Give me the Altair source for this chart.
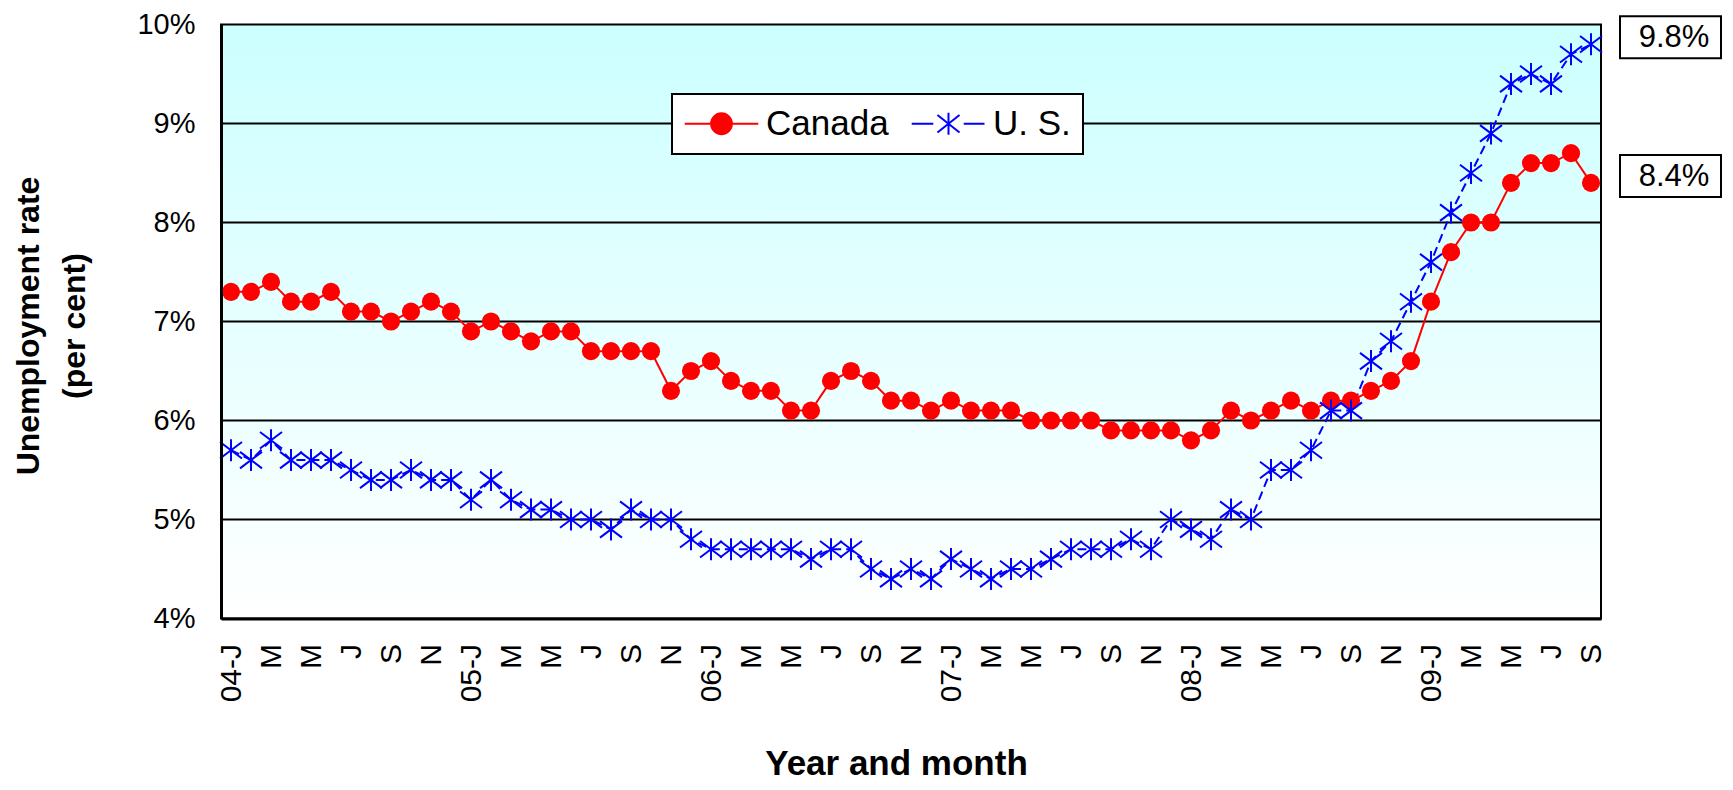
import altair as alt
import pandas as pd

# ---- data -------------------------------------------------------------
months = [f"{y}-{m:02d}" for y in range(2004, 2010) for m in range(1, 13)][:69]

canada = [7.3, 7.3, 7.4, 7.2, 7.2, 7.3, 7.1, 7.1, 7.0, 7.1, 7.2, 7.1,
          6.9, 7.0, 6.9, 6.8, 6.9, 6.9, 6.7, 6.7, 6.7, 6.7, 6.3, 6.5,
          6.6, 6.4, 6.3, 6.3, 6.1, 6.1, 6.4, 6.5, 6.4, 6.2, 6.2, 6.1,
          6.2, 6.1, 6.1, 6.1, 6.0, 6.0, 6.0, 6.0, 5.9, 5.9, 5.9, 5.9,
          5.8, 5.9, 6.1, 6.0, 6.1, 6.2, 6.1, 6.2, 6.2, 6.3, 6.4, 6.6,
          7.2, 7.7, 8.0, 8.0, 8.4, 8.6, 8.6, 8.7, 8.4]

us = [5.7, 5.6, 5.8, 5.6, 5.6, 5.6, 5.5, 5.4, 5.4, 5.5, 5.4, 5.4,
      5.2, 5.4, 5.2, 5.1, 5.1, 5.0, 5.0, 4.9, 5.1, 5.0, 5.0, 4.8,
      4.7, 4.7, 4.7, 4.7, 4.7, 4.6, 4.7, 4.7, 4.5, 4.4, 4.5, 4.4,
      4.6, 4.5, 4.4, 4.5, 4.5, 4.6, 4.7, 4.7, 4.7, 4.8, 4.7, 5.0,
      4.9, 4.8, 5.1, 5.0, 5.5, 5.5, 5.7, 6.1, 6.1, 6.6, 6.8, 7.2,
      7.6, 8.1, 8.5, 8.9, 9.4, 9.5, 9.4, 9.7, 9.8]

tick_months = months[::2]
tick_labels = ["04-J", "M", "M", "J", "S", "N",
               "05-J", "M", "M", "J", "S", "N",
               "06-J", "M", "M", "J", "S", "N",
               "07-J", "M", "M", "J", "S", "N",
               "08-J", "M", "M", "J", "S", "N",
               "09-J", "M", "M", "J", "S"]

series_names = ["Canada", "U. S."]
series_colors = ["#FF0000", "#0000FF"]
y_ticks = [4, 5, 6, 7, 8, 9, 10]
grid_values = [5, 6, 7, 8, 9]

df = pd.DataFrame({
    "month": months * 2,
    "series": ["Canada"] * len(months) + ["U. S."] * len(months),
    "rate": canada + us,
})

end_df = pd.DataFrame({
    "month": [months[-1], months[-1]],
    "rate": [us[-1], canada[-1]],
    "label": [f"{us[-1]}%", f"{canada[-1]}%"],
})

grid_df = pd.DataFrame({"rate": grid_values})

# ---- shapes ----------------------------------------------------------
STAR = "M0,-1L0,1M-1,-0.75L1,0.75M-1,0.75L1,-0.75"
LEG_CANADA = ("M-2.3,0L2.3,0"
              "M-0.65,0C-0.65,-0.359,-0.359,-0.65,0,-0.65"
              "C0.359,-0.65,0.65,-0.359,0.65,0"
              "C0.65,0.359,0.359,0.65,0,0.65"
              "C-0.359,0.65,-0.65,0.359,-0.65,0Z")
LEG_US = ("M-2.3,0L-0.95,0M0.95,0L2.25,0"
          "M0,-0.69L0,0.69M-0.69,-0.55L0.69,0.55M-0.69,0.55L0.69,-0.55")
BOX = "M-1,-0.416L1,-0.416L1,0.416L-1,0.416Z"

FONT = "Liberation Sans"

# ---- scales / axes ---------------------------------------------------
xscale = alt.Scale(type="point", padding=0.5, domain=months)
yscale = alt.Scale(domain=[4, 10], nice=False, zero=False)

label_expr = ("[" + ",".join(f"'{t}'" for t in tick_labels) + "]"
              "[indexof([" + ",".join(f"'{m}'" for m in tick_months) + "], datum.value)]")

xaxis = alt.Axis(
    values=tick_months, labelExpr=label_expr,
    labelAngle=270, labelAlign="right", labelBaseline="middle",
    labelPadding=25, labelFontSize=30, labelFont=FONT, labelColor="black",
    labelOverlap=False, ticks=False, grid=False,
    domain=True, domainColor="black", domainWidth=3,
    title="Year and month", titleFont=FONT, titleFontSize=35,
    titleFontWeight="bold", titleColor="black",
    titleAlign="center", titleBaseline="alphabetic",
    titleX=675, titleY=156, zindex=1,
)

yaxis = alt.Axis(
    values=y_ticks, labelExpr="datum.value + '%'",
    labelFontSize=29, labelFont=FONT, labelColor="black", labelPadding=26,
    ticks=False, grid=False,
    domain=True, domainColor="black", domainWidth=3,
    title=["Unemployment rate", "(per cent)"], titleFont=FONT,
    titleFontSize=32, titleFontWeight="bold", titleColor="black",
    titleAngle=270, titleAlign="center", titleBaseline="bottom",
    titleX=-176, titleY=301, titleLineHeight=46, zindex=1,
)

X = alt.X("month:O", scale=xscale, axis=xaxis, sort=months)
Y = alt.Y("rate:Q", scale=yscale, axis=yaxis)

# ---- layers ----------------------------------------------------------
gradient = {
    "gradient": "linear", "x1": 0, "y1": 0, "x2": 0, "y2": 1,
    "stops": [{"offset": 0, "color": "#CCFFFF"},
              {"offset": 1, "color": "#FFFFFF"}],
}

bg = alt.Chart(pd.DataFrame({"a": [0]})).mark_rect(
    fill=gradient, stroke="black", strokeWidth=2
).encode(
    x=alt.value(0), x2=alt.value("width"),
    y=alt.value(0), y2=alt.value("height"),
)

grid = alt.Chart(grid_df).mark_rule(color="black", strokeWidth=2).encode(y=Y)

canada_line = alt.Chart(df).transform_filter(alt.datum.series == "Canada").mark_line(
    strokeWidth=2, color="#FF0000"
).encode(x=X, y=Y)

us_line = alt.Chart(df).transform_filter(alt.datum.series == "U. S.").mark_line(
    strokeWidth=2, color="#0000FF", strokeDash=[9, 5]
).encode(x=X, y=Y)

canada_pts = alt.Chart(df).transform_filter(alt.datum.series == "Canada").mark_point(
    shape="circle", filled=True, size=330, color="#FF0000", opacity=1
).encode(x=X, y=Y)

us_pts = alt.Chart(df).transform_filter(alt.datum.series == "U. S.").mark_point(
    shape=STAR, filled=False, size=484, color="#0000FF", strokeWidth=2, opacity=1
).encode(x=X, y=Y)


def make_legend():
    return alt.Legend(
        title=None, orient="none", legendX=451, legendY=69.5,
        direction="horizontal", symbolSize=1024, symbolStrokeWidth=2,
        symbolOffset=20, labelOffset=27, labelFontSize=35, labelFont=FONT,
        labelColor="black", padding=12, columnPadding=18,
        strokeColor="black", fillColor="white", symbolOpacity=1,
    )


legend_layer = alt.Chart(df).mark_point(opacity=0).encode(
    x=X, y=Y,
    shape=alt.Shape("series:N", scale=alt.Scale(domain=series_names, range=[LEG_CANADA, LEG_US]), legend=make_legend()),
    fill=alt.Fill("series:N", scale=alt.Scale(domain=series_names, range=series_colors), legend=make_legend()),
    stroke=alt.Stroke("series:N", scale=alt.Scale(domain=series_names, range=series_colors), legend=make_legend()),
)

boxes = alt.Chart(end_df).mark_point(
    shape=BOX, size=10201, filled=True, fill="white", stroke="black",
    strokeWidth=2, opacity=1, xOffset=79.5, yOffset=-7,
).encode(x=X, y=Y)

texts = alt.Chart(end_df).mark_text(
    font=FONT, fontSize=31, color="black", align="center", baseline="middle",
    xOffset=83, yOffset=-6,
).encode(x=X, y=Y, text="label:N")

chart = alt.layer(
    bg, grid, canada_line, us_line, canada_pts, us_pts, legend_layer, boxes, texts
).properties(
    width=1380, height=594,
    autosize=alt.AutoSizeParams(type="none"),
    padding={"left": 213, "top": 16.5, "right": 122, "bottom": 163.5},
).configure_view(
    stroke="transparent"
).configure_legend(
    strokeWidth=2
)

chart.save("out.html", embed_options={"renderer": "svg", "actions": False})
